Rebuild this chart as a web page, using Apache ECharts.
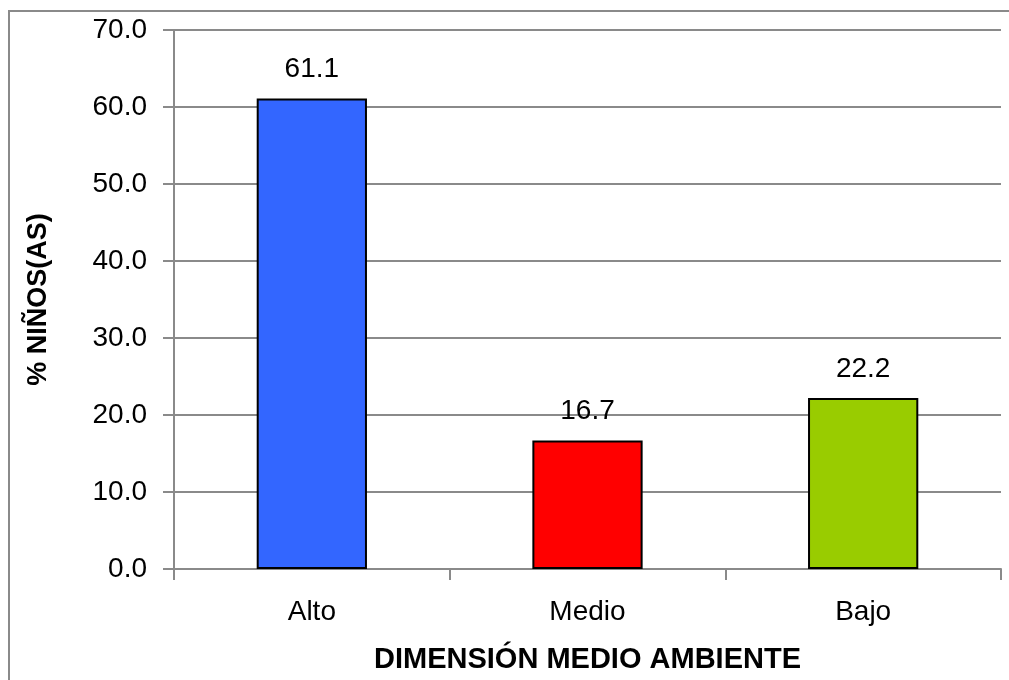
<!DOCTYPE html>
<html>
<head>
<meta charset="utf-8">
<script src="https://cdn.jsdelivr.net/npm/echarts@6/dist/echarts.min.js"></script>
<style>
html,body{margin:0;padding:0;background:#fff;}
#c{width:1009px;height:680px;}
</style>
</head>
<body>
<div id="c"></div>
<script>
const categories = ['Alto', 'Medio', 'Bajo'];
const values = [61.1, 16.7, 22.2];
const barColors = ['#3366FF', '#FF0000', '#99CC00'];
const yTicks = { min: 0, max: 70, interval: 10 };

const chart = echarts.init(document.getElementById('c'));
const FONT = 'Liberation Sans, Arial, sans-serif';
chart.setOption({
  animation: false,
  backgroundColor: '#fff',
  graphic: [{
    type: 'rect', z: -1,
    shape: { x: 9, y: 11, width: 1200, height: 1000 },
    style: { fill: 'none', stroke: '#8a8a8a', lineWidth: 2 }
  }],
  grid: { left: 174, right: 8, top: 30, bottom: 111 },
  xAxis: {
    type: 'category',
    data: categories,
    name: 'DIMENSIÓN MEDIO AMBIENTE',
    nameLocation: 'middle',
    nameGap: 76,
    nameTextStyle: { fontFamily: FONT, fontSize: 29, fontWeight: 'bold', color: '#000' },
    axisLine: { lineStyle: { color: '#8a8a8a', width: 2 } },
    axisTick: { show: true, length: 11, lineStyle: { color: '#8a8a8a', width: 2 } },
    axisLabel: { fontFamily: FONT, fontSize: 28, color: '#000', margin: 29 }
  },
  yAxis: {
    type: 'value',
    min: yTicks.min, max: yTicks.max, interval: yTicks.interval,
    name: '% NIÑOS(AS)',
    nameLocation: 'middle',
    nameGap: 122,
    nameRotate: 90,
    nameTextStyle: { fontFamily: FONT, fontSize: 27, fontWeight: 'bold', color: '#000' },
    axisLine: { show: true, lineStyle: { color: '#8a8a8a', width: 2 } },
    axisTick: { show: true, length: 11, lineStyle: { color: '#8a8a8a', width: 2 } },
    axisLabel: { fontFamily: FONT, fontSize: 28, color: '#000', margin: 27,
      formatter: v => v.toFixed(1) },
    splitLine: { lineStyle: { color: '#8a8a8a', width: 2 } }
  },
  series: [{
    type: 'bar',
    barWidth: '40%',
    data: values.map((v, i) => ({ value: v, itemStyle: { color: barColors[i] } })),
    itemStyle: { borderColor: '#000', borderWidth: 2 },
    label: { show: true, position: 'top', distance: 15, fontFamily: FONT, fontSize: 28, color: '#000',
      formatter: p => p.value.toFixed(1) }
  }]
});
</script>
</body>
</html>
